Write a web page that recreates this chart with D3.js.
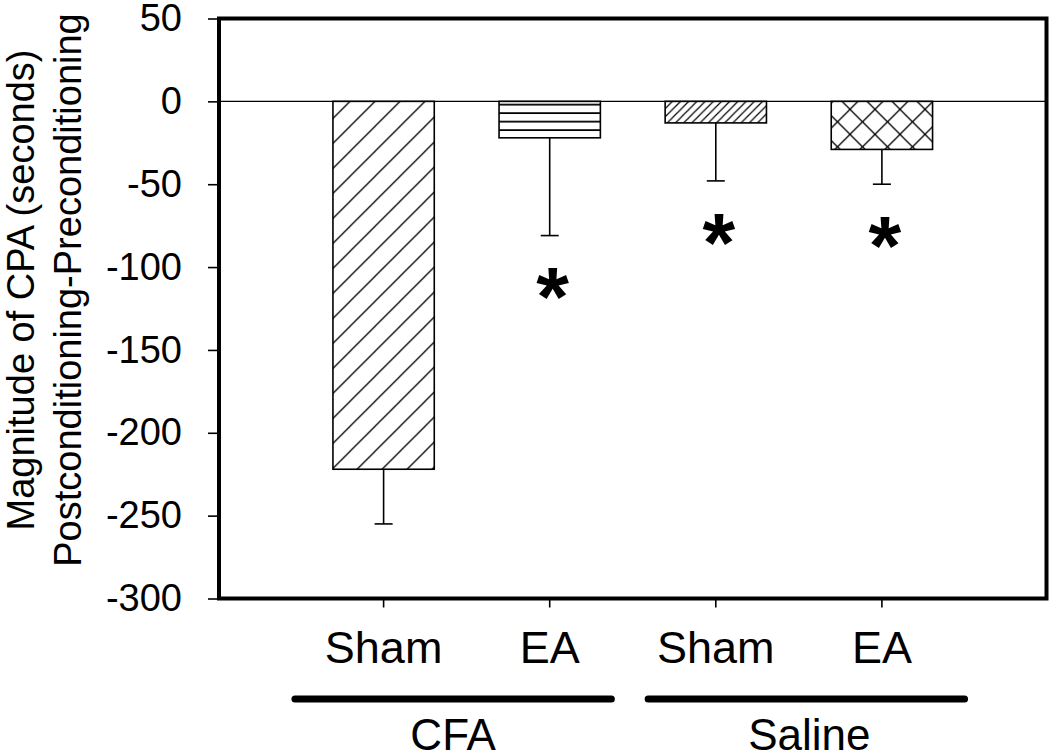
<!DOCTYPE html>
<html>
<head>
<meta charset="utf-8">
<script src="https://cdn.jsdelivr.net/npm/d3@7"></script>
<style>
  html, body { margin: 0; padding: 0; background: #fff; }
  svg { display: block; }
  text { font-family: "Liberation Sans", Arial, sans-serif; fill: #000; }
</style>
</head>
<body>
<svg id="chart" width="1050" height="753"></svg>
<script>
// ---- data ----
const barIds     = ["CFA-Sham", "CFA-EA", "Saline-Sham", "Saline-EA"];
const barLabels  = ["Sham", "EA", "Sham", "EA"];
const barGroups  = ["CFA", "CFA", "Saline", "Saline"];
const meanValues = [-222, -22, -13, -29];
const errValues  = [33, 59, 35, 21];
const barPatterns = ["diagWide", "horiz", "diagDense", "cross"];
const significant = [false, true, true, true];
const yTicks = [50, 0, -50, -100, -150, -200, -250, -300];
const groupNames = ["CFA", "Saline"];
const yTitleLines = ["Magnitude of CPA (seconds)", "Postconditioning-Preconditioning"];

// ---- layout ----
const svg = d3.select("#chart");
const plotL = 219, plotR = 1046.5, plotT = 18.5, plotB = 598.5;

const x = d3.scaleBand().domain(barIds).range([plotL, plotR])
  .paddingInner(0.39).paddingOuter(0.686);
const y = d3.scaleLinear().domain([-300, 50]).range([plotB, plotT]);

// ---- patterns ----
const defs = svg.append("defs");
function diagPattern(id, s, w) {
  const p = defs.append("pattern").attr("id", id)
    .attr("patternUnits", "userSpaceOnUse").attr("width", s).attr("height", s)
    .attr("x", 0).attr("y", y(0));
  p.append("path")
    .attr("d", `M0,${s} L${s},0 M${-s/4},${s/4} L${s/4},${-s/4} M${s*0.75},${s*1.25} L${s*1.25},${s*0.75}`)
    .attr("stroke", "#000").attr("stroke-width", w).attr("fill", "none");
}
diagPattern("diagWide", 25, 1.3);
diagPattern("diagDense", 8.2, 1.2);
{
  const s = 8.5;
  const p = defs.append("pattern").attr("id", "horiz")
    .attr("patternUnits", "userSpaceOnUse").attr("width", 20).attr("height", s)
    .attr("x", 0).attr("y", y(0) + 2.3);
  p.append("line").attr("x1", 0).attr("x2", 20).attr("y1", 1).attr("y2", 1)
    .attr("stroke", "#000").attr("stroke-width", 1.8);
}
{
  const s = 25;
  const p = defs.append("pattern").attr("id", "cross")
    .attr("patternUnits", "userSpaceOnUse").attr("width", s).attr("height", s)
    .attr("x", 0).attr("y", y(0) + 8);
  p.append("path")
    .attr("d", `M0,0 L${s},${s} M0,${s} L${s},0 M${-s/4},${s/4} L${s/4},${-s/4} M${s*0.75},${s*1.25} L${s*1.25},${s*0.75} M${-s/4},${s*0.75} L${s/4},${s*1.25} M${s*0.75},${-s/4} L${s*1.25},${s/4}`)
    .attr("stroke", "#000").attr("stroke-width", 1.3).attr("fill", "none");
}

const data = barIds.map((id, i) => ({
  id, label: barLabels[i], group: barGroups[i], mean: meanValues[i],
  err: errValues[i], pattern: barPatterns[i], sig: significant[i]
}));

// ---- zero line ----
svg.append("line")
  .attr("x1", plotL).attr("x2", plotR).attr("y1", y(0)).attr("y2", y(0))
  .attr("stroke", "#000").attr("stroke-width", 1.4);

// ---- bars ----
svg.append("g").selectAll("rect").data(data).join("rect")
  .attr("x", d => x(d.id))
  .attr("width", x.bandwidth())
  .attr("y", d => y(Math.max(0, d.mean)))
  .attr("height", d => Math.abs(y(d.mean) - y(0)))
  .attr("fill", d => `url(#${d.pattern})`)
  .attr("stroke", "#000").attr("stroke-width", 1.6);

// ---- error bars (downward only) ----
const eb = svg.append("g").attr("stroke", "#000").attr("stroke-width", 1.6);
eb.selectAll("line.v").data(data).join("line").attr("class", "v")
  .attr("x1", d => x(d.id) + x.bandwidth() / 2).attr("x2", d => x(d.id) + x.bandwidth() / 2)
  .attr("y1", d => y(d.mean)).attr("y2", d => y(d.mean - d.err));
eb.selectAll("line.c").data(data).join("line").attr("class", "c")
  .attr("x1", d => x(d.id) + x.bandwidth() / 2 - 9).attr("x2", d => x(d.id) + x.bandwidth() / 2 + 9)
  .attr("y1", d => y(d.mean - d.err)).attr("y2", d => y(d.mean - d.err));

// ---- significance asterisks ----
const astSize = 84;
svg.append("g").selectAll("text").data(data.filter(d => d.sig)).join("text")
  .attr("x", d => x(d.id) + x.bandwidth() / 2 + 3)
  .attr("y", d => y(d.mean - d.err) + 43 + astSize * 0.57)
  .attr("text-anchor", "middle")
  .attr("font-weight", "bold")
  .attr("font-size", astSize)
  .text("*");

// ---- y axis ----
const yAxis = svg.append("g").attr("transform", `translate(${plotL},0)`)
  .call(d3.axisLeft(y).tickValues(yTicks).tickSize(11).tickPadding(26).tickFormat(d => String(d)));
yAxis.select(".domain").remove();
yAxis.selectAll(".tick line").attr("stroke", "#000").attr("stroke-width", 1.6);
yAxis.selectAll(".tick text").attr("font-size", 38).attr("fill", "#000")
  .attr("font-family", "Liberation Sans, Arial, sans-serif");

// ---- x axis ticks & labels ----
const xAxis = svg.append("g").attr("transform", `translate(0,${plotB})`)
  .call(d3.axisBottom(x).tickSize(9).tickFormat(""));
xAxis.select(".domain").remove();
xAxis.selectAll(".tick line").attr("stroke", "#000").attr("stroke-width", 1.6);

svg.append("g").selectAll("text").data(data).join("text")
  .attr("x", d => x(d.id) + x.bandwidth() / 2)
  .attr("y", 663)
  .attr("text-anchor", "middle")
  .attr("font-size", 45)
  .text(d => d.label);

// ---- frame ----
svg.append("rect")
  .attr("x", plotL).attr("y", plotT)
  .attr("width", plotR - plotL).attr("height", plotB - plotT)
  .attr("fill", "none").attr("stroke", "#000").attr("stroke-width", 4);

// ---- group bars & labels ----
const groupSpans = [
  { name: groupNames[0], x0: x("CFA-Sham") - 38, x1: x("CFA-EA") + x.bandwidth() + 11 },
  { name: groupNames[1], x0: x("Saline-Sham") - 17, x1: x("Saline-EA") + x.bandwidth() + 32 }
];
svg.append("g").selectAll("line").data(groupSpans).join("line")
  .attr("x1", d => d.x0).attr("x2", d => d.x1)
  .attr("y1", 699).attr("y2", 699)
  .attr("stroke", "#000").attr("stroke-width", 7).attr("stroke-linecap", "round");
svg.append("g").selectAll("text").data(groupSpans).join("text")
  .attr("x", d => (d.x0 + d.x1) / 2 + (d.name === "Saline" ? 3 : 0))
  .attr("y", 750)
  .attr("text-anchor", "middle")
  .attr("font-size", 44)
  .text(d => d.name);

// ---- y title ----
const tcy = 290;
svg.append("g").selectAll("text").data(yTitleLines).join("text")
  .attr("transform", (d, i) => `translate(${i === 0 ? 34 : 81},${tcy}) rotate(-90)`)
  .attr("text-anchor", "middle")
  .attr("font-size", 38)
  .text(d => d);
</script>
</body>
</html>
